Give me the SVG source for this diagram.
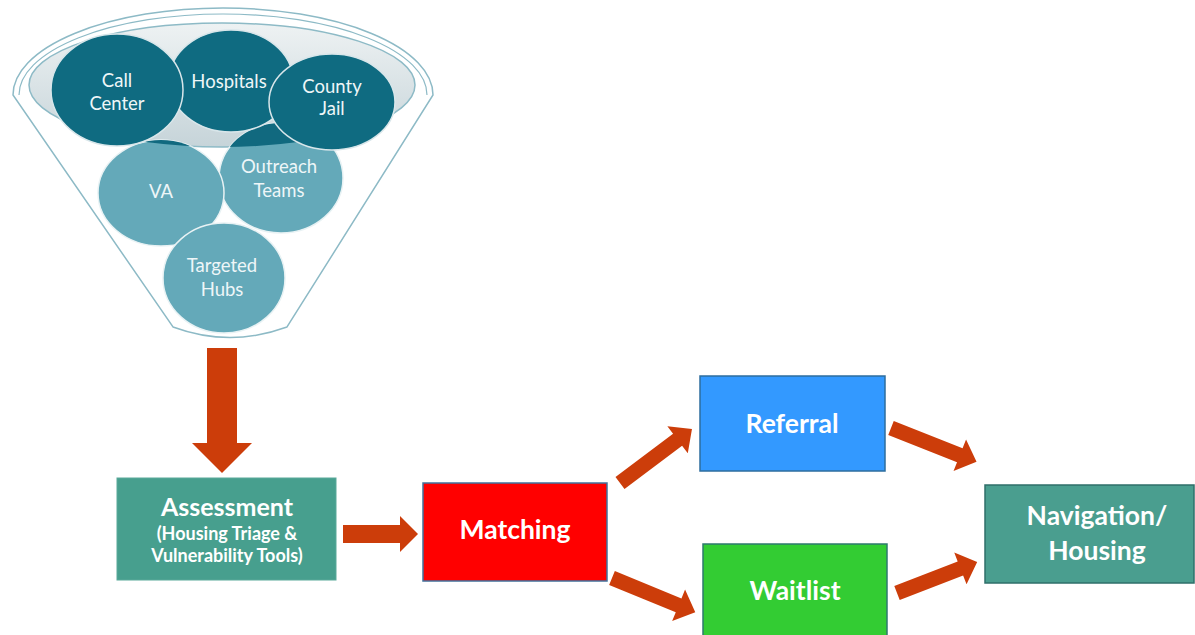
<svg xmlns="http://www.w3.org/2000/svg" width="1195" height="635" viewBox="0 0 1195 635">
<style>
.arrow{fill:#cc3d0a}
.lbl{font-family:Lato,"Open Sans","Liberation Sans",sans-serif;fill:#ffffff;text-anchor:middle}
.fl{font-size:18.5px;fill:#eef6f8}
.bx{font-weight:bold;font-size:26.5px}
.dark{fill:#0f6b81;stroke:#d8e6ea;stroke-width:1.5}
.light{fill:#64a9b9;stroke:#e8f2f4;stroke-width:1.5}
</style>
<defs>
<linearGradient id="gg" x1="0" y1="0" x2="0" y2="1">
<stop offset="0" stop-color="#eef2f3"/>
<stop offset="1" stop-color="#c6d4d9"/>
</linearGradient>
<clipPath id="innerClip"><ellipse cx="222" cy="85" rx="193" ry="62"/></clipPath>
</defs>
<rect width="1195" height="635" fill="#ffffff"/>

<g id="funnel">
<path d="M13,95 A210,87 0 0 1 433,95 L287,327 Q230,348 173,327 Z" fill="#ffffff" stroke="#8dbac6" stroke-width="1.5"/>
<path d="M19,95 A204,81 0 0 1 427,95" fill="none" stroke="#8dbac6" stroke-width="1.2"/>
<ellipse cx="222" cy="85" rx="193" ry="62" fill="url(#gg)" stroke="#8dbac6" stroke-width="1.5"/>
</g>

<g id="outreach-teams">
<ellipse class="light" cx="281" cy="178" rx="62" ry="55"/>
<ellipse cx="281" cy="178" rx="62" ry="55" fill="#11697f" clip-path="url(#innerClip)"/>
<text class="lbl fl" x="279" y="173">Outreach</text>
<text class="lbl fl" x="279" y="197">Teams</text>
</g>
<g id="va">
<ellipse class="light" cx="161" cy="193" rx="63" ry="53"/>
<ellipse cx="161" cy="193" rx="63" ry="53" fill="#11697f" clip-path="url(#innerClip)"/>
<text class="lbl fl" x="161" y="198">VA</text>
</g>
<g id="targeted-hubs">
<ellipse class="light" cx="224" cy="278" rx="61" ry="55"/>
<text class="lbl fl" x="222" y="272">Targeted</text>
<text class="lbl fl" x="222" y="296">Hubs</text>
</g>
<g id="hospitals">
<ellipse class="dark" cx="231" cy="81" rx="62" ry="51"/>
<text class="lbl fl" x="229" y="88">Hospitals</text>
</g>
<g id="call-center">
<ellipse class="dark" cx="117" cy="90" rx="66" ry="56"/>
<text class="lbl fl" x="117" y="87">Call</text>
<text class="lbl fl" x="117" y="110">Center</text>
</g>
<g id="county-jail">
<ellipse class="dark" cx="332" cy="102" rx="63" ry="48"/>
<text class="lbl fl" x="332" y="93">County</text>
<text class="lbl fl" x="332" y="115">Jail</text>
</g>

<g id="connectors">
<polygon class="arrow" points="207,348 237,348 237,443 252,443 222,473 192,443 207,443"/>
<polygon class="arrow" points="343,525 400,525 400,516 418,534 400,552 400,543 343,543"/>
<polygon class="arrow" transform="translate(620,483) rotate(-36.9)" points="0,-7.5 72,-7.5 72,-17 90,0 72,17 72,7.5 0,7.5"/>
<polygon class="arrow" transform="translate(612,578) rotate(22.3)" points="0,-7.5 72,-7.5 72,-17 90,0 72,17 72,7.5 0,7.5"/>
<polygon class="arrow" transform="translate(891,428) rotate(21.6)" points="0,-7.5 74,-7.5 74,-17 92,0 74,17 74,7.5 0,7.5"/>
<polygon class="arrow" transform="translate(897,593) rotate(-21.2)" points="0,-7.5 68,-7.5 68,-17 86,0 68,17 68,7.5 0,7.5"/>
</g>

<g id="assessment">
<rect x="117" y="478" width="219" height="102" fill="#479f8e" stroke="#5aa99a" stroke-width="1"/>
<text class="lbl" x="227" y="516" font-size="25" font-weight="bold">Assessment</text>
<text class="lbl" x="227" y="540" font-size="18" font-weight="bold">(Housing Triage &amp;</text>
<text class="lbl" x="227" y="562" font-size="18" font-weight="bold">Vulnerability Tools)</text>
</g>
<g id="matching">
<rect x="423" y="483" width="184" height="98" fill="#ff0000" stroke="#41719c" stroke-width="1.5"/>
<text class="lbl bx" x="515" y="539">Matching</text>
</g>
<g id="referral">
<rect x="700" y="376" width="185" height="95" fill="#3399ff" stroke="#2e6e9e" stroke-width="1.5"/>
<text class="lbl bx" x="792" y="433">Referral</text>
</g>
<g id="waitlist">
<rect x="703" y="544" width="184" height="96" fill="#33cc33" stroke="#2e7a6e" stroke-width="1.5"/>
<text class="lbl bx" x="795" y="600">Waitlist</text>
</g>
<g id="navigation-housing">
<rect x="985" y="485" width="209" height="98" fill="#4a9e8f" stroke="#2f6f6a" stroke-width="1.5"/>
<text class="lbl bx" x="1097" y="525">Navigation/</text>
<text class="lbl bx" x="1097" y="560">Housing</text>
</g>
</svg>
